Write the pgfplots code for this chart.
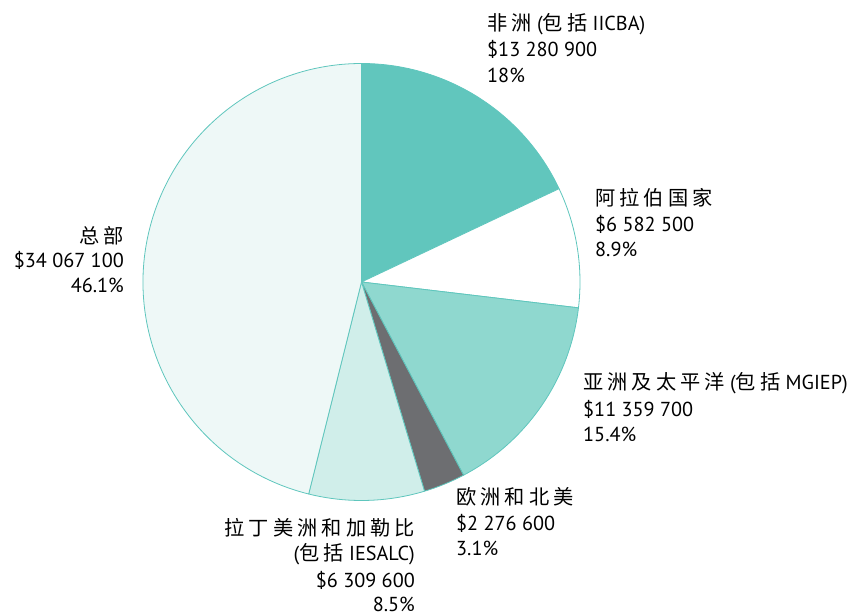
\documentclass[border=0pt]{standalone}
\usepackage{pgfplots}
\pgfplotsset{compat=1.18}
\usepackage{pgfplotstable}
\usepackage{fontspec}
\setmainfont{PT Sans}
\newfontfamily\cjk[LetterSpace=20]{Noto Sans CJK SC}
\definecolor{cAfr}{HTML}{61C6BD}
\definecolor{cArab}{HTML}{FFFFFF}
\definecolor{cAsia}{HTML}{8FD8CF}
\definecolor{cEur}{HTML}{6D6E71}
\definecolor{cLat}{HTML}{D0EEEA}
\definecolor{cHQ}{HTML}{EEF8F7}
\definecolor{edge}{HTML}{5FC6BD}
\pgfplotstableread[col sep=comma]{
value,color
13.2809,cAfr
6.5825,cArab
11.3597,cAsia
2.2766,cEur
6.3096,cLat
34.0671,cHQ
}\datatable
\tikzset{lw/.style={anchor=base west, inner sep=0pt, font=\fontsize{20.3}{24}\selectfont},
         le/.style={anchor=base east, inner sep=0pt, font=\fontsize{20.3}{24}\selectfont}}
\begin{document}
\begin{tikzpicture}
\begin{axis}[hide axis, scale only axis, width=864bp, height=615bp,
  xmin=0, xmax=864, ymin=0, ymax=615, clip=false]
\pgfplotsextra{
  \xdef\total{0}
  \pgfplotstableforeachcolumnelement{value}\of\datatable\as\v{%
    \pgfmathparse{\total+\v}\xdef\total{\pgfmathresult}}
  \xdef\angA{90}
  \pgfplotsforeachungrouped \i in {0,...,5}{%
    \pgfplotstablegetelem{\i}{value}\of\datatable \let\v\pgfplotsretval
    \pgfplotstablegetelem{\i}{color}\of\datatable \let\c\pgfplotsretval
    \pgfmathparse{\angA-360*\v/\total}\let\angB\pgfmathresult
    \filldraw[fill=\c, draw=edge, line width=0.8bp, line join=round]
      (axis cs:361.5,333) -- (axis cs:{361.5+218.5*cos(\angA)},{333+218.5*sin(\angA)})
      arc[start angle=\angA, end angle=\angB, radius=218.5bp] -- cycle;
    \xdef\angA{\angB}%
  }
}
% Africa
\node[lw] at (axis cs:487,584) {{\cjk 非洲} ({\cjk 包括} IICBA)};
\node[lw] at (axis cs:487,558) {\$13 280 900};
\node[lw] at (axis cs:487,532) {18\%};
% Arab
\node[lw] at (axis cs:595,409) {{\cjk 阿拉伯国家}};
\node[lw] at (axis cs:595,383) {\$6 582 500};
\node[lw] at (axis cs:595,358) {8.9\%};
% Asia
\node[lw] at (axis cs:583,225) {{\cjk 亚洲及太平洋} ({\cjk 包括} MGIEP)};
\node[lw] at (axis cs:583,198) {\$11 359 700};
\node[lw] at (axis cs:583,173) {15.4\%};
% Europe
\node[lw] at (axis cs:456,110) {{\cjk 欧洲和北美}};
\node[lw] at (axis cs:456,84) {\$2 276 600};
\node[lw] at (axis cs:456,59) {3.1\%};
% Latin America
\node[le] at (axis cs:415,79) {{\cjk 拉丁美洲和加勒比}};
\node[le] at (axis cs:415,54) {({\cjk 包括} IESALC)};
\node[le] at (axis cs:415,28) {\$6 309 600};
\node[le] at (axis cs:415,4) {8.5\%};
% HQ
\node[le] at (axis cs:124,371) {{\cjk 总部}};
\node[le] at (axis cs:124,347) {\$34 067 100};
\node[le] at (axis cs:124,322) {46.1\%};
\end{axis}
\pgfresetboundingbox
\path[use as bounding box] (0,0) rectangle (864bp,615bp);
\end{tikzpicture}
\end{document}
